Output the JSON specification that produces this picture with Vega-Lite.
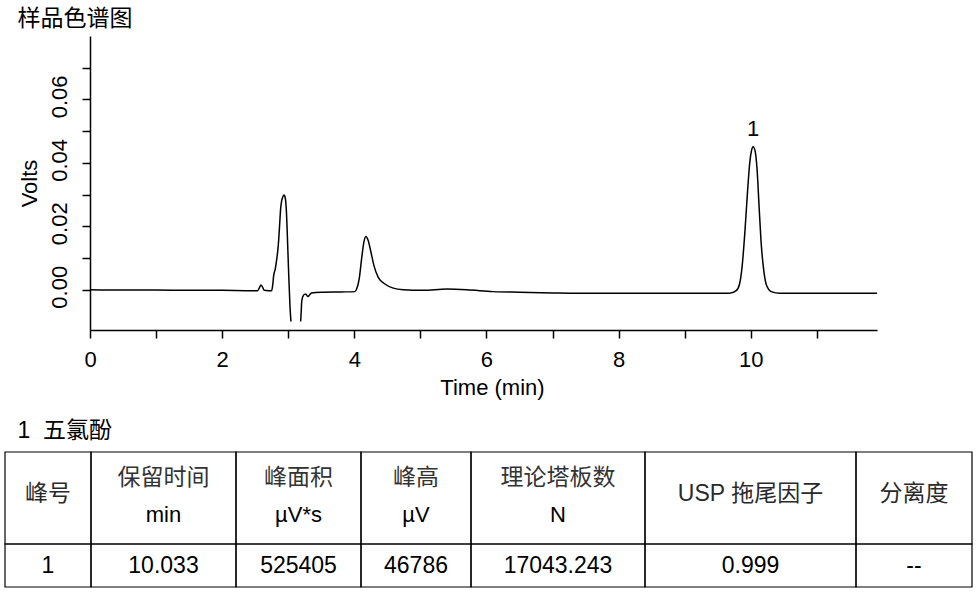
{
  "$schema": "https://vega.github.io/schema/vega-lite/v6.json",
  "padding": {"left": 4, "top": 8, "right": 4, "bottom": 4},
  "background": "white",
  "config": {
    "view": {"stroke": null},
    "font": "Liberation Sans",
    "axis": {
      "domainColor": "#000", "domainWidth": 1.5, "tickColor": "#000", "tickWidth": 1.5, "tickSize": 8,
      "labelColor": "#000", "titleColor": "#000", "labelFont": "Liberation Sans", "titleFont": "Liberation Sans",
      "labelFontSize": 22, "titleFontSize": 22, "titleFontWeight": "normal", "grid": false,
      "labelFlush": false, "labelOverlap": false
    },
    "title": {"color": "#000", "fontWeight": "normal", "anchor": "start"}
  },
  "title": {"text": "样品色谱图", "font": "Noto Sans CJK SC", "fontSize": 23, "dx": 13, "offset": 5},
  "datasets": {
    "trace": [
      {"t": 0, "v": 0.0, "seg": 1}, {"t": 0.5, "v": -0.0001, "seg": 1}, {"t": 1.0, "v": -0.0001, "seg": 1},
      {"t": 1.5, "v": -0.0002, "seg": 1}, {"t": 2.0, "v": -0.0002, "seg": 1}, {"t": 2.4, "v": -0.0003, "seg": 1},
      {"t": 2.537, "v": -0.0003, "seg": 1}, {"t": 2.565, "v": 0.0007, "seg": 1}, {"t": 2.587, "v": 0.0015, "seg": 1},
      {"t": 2.61, "v": 0.0009, "seg": 1}, {"t": 2.637, "v": -0.0002, "seg": 1}, {"t": 2.7, "v": -0.0003, "seg": 1},
      {"t": 2.749, "v": -0.0003, "seg": 1}, {"t": 2.765, "v": 0.0015, "seg": 1}, {"t": 2.78, "v": 0.0045, "seg": 1},
      {"t": 2.803, "v": 0.0065, "seg": 1}, {"t": 2.825, "v": 0.0095, "seg": 1}, {"t": 2.849, "v": 0.0139, "seg": 1},
      {"t": 2.867, "v": 0.0195, "seg": 1}, {"t": 2.885, "v": 0.0255, "seg": 1}, {"t": 2.9, "v": 0.028, "seg": 1},
      {"t": 2.915, "v": 0.0291, "seg": 1}, {"t": 2.935, "v": 0.0299, "seg": 1}, {"t": 2.95, "v": 0.0294, "seg": 1},
      {"t": 2.961, "v": 0.028, "seg": 1}, {"t": 2.975, "v": 0.0235, "seg": 1}, {"t": 2.985, "v": 0.018, "seg": 1},
      {"t": 3.006, "v": 0.0055, "seg": 1}, {"t": 3.026, "v": -0.005, "seg": 1}, {"t": 3.041, "v": -0.01, "seg": 1},
      {"t": 3.188, "v": -0.01, "seg": 2}, {"t": 3.196, "v": -0.007, "seg": 2}, {"t": 3.203, "v": -0.004, "seg": 2},
      {"t": 3.215, "v": -0.0025, "seg": 2}, {"t": 3.227, "v": -0.0019, "seg": 2}, {"t": 3.25, "v": -0.0014, "seg": 2},
      {"t": 3.268, "v": -0.0014, "seg": 2}, {"t": 3.285, "v": -0.0019, "seg": 2}, {"t": 3.303, "v": -0.0021, "seg": 2},
      {"t": 3.33, "v": -0.0014, "seg": 2}, {"t": 3.354, "v": -0.001, "seg": 2}, {"t": 3.5, "v": -0.0008, "seg": 2},
      {"t": 3.8, "v": -0.0007, "seg": 2}, {"t": 4.009, "v": -0.0006, "seg": 2}, {"t": 4.035, "v": 0.0002, "seg": 2},
      {"t": 4.074, "v": 0.0034, "seg": 2}, {"t": 4.11, "v": 0.0097, "seg": 2}, {"t": 4.145, "v": 0.015, "seg": 2},
      {"t": 4.175, "v": 0.0168, "seg": 2}, {"t": 4.21, "v": 0.0155, "seg": 2}, {"t": 4.247, "v": 0.0123, "seg": 2},
      {"t": 4.297, "v": 0.0076, "seg": 2}, {"t": 4.362, "v": 0.0039, "seg": 2}, {"t": 4.463, "v": 0.0018, "seg": 2},
      {"t": 4.589, "v": 0.0005, "seg": 2}, {"t": 4.74, "v": 0.0, "seg": 2}, {"t": 5.038, "v": -0.0002, "seg": 2},
      {"t": 5.4, "v": 0.0002, "seg": 2}, {"t": 5.7, "v": 0.0, "seg": 2}, {"t": 6.1, "v": -0.0006, "seg": 2},
      {"t": 6.5, "v": -0.0008, "seg": 2}, {"t": 7.0, "v": -0.001, "seg": 2}, {"t": 7.42, "v": -0.0011, "seg": 2},
      {"t": 8.0, "v": -0.0011, "seg": 2}, {"t": 8.5, "v": -0.0011, "seg": 2}, {"t": 9.0, "v": -0.0011, "seg": 2},
      {"t": 9.5, "v": -0.0011, "seg": 2}, {"t": 9.68, "v": -0.0011, "seg": 2}, {"t": 9.78, "v": -0.0003, "seg": 2},
      {"t": 9.83, "v": 0.0018, "seg": 2}, {"t": 9.87, "v": 0.0076, "seg": 2}, {"t": 9.91, "v": 0.018, "seg": 2},
      {"t": 9.95, "v": 0.0307, "seg": 2}, {"t": 9.985, "v": 0.0402, "seg": 2}, {"t": 10.01, "v": 0.0438, "seg": 2},
      {"t": 10.035, "v": 0.0451, "seg": 2}, {"t": 10.065, "v": 0.0438, "seg": 2}, {"t": 10.095, "v": 0.038, "seg": 2},
      {"t": 10.125, "v": 0.0265, "seg": 2}, {"t": 10.16, "v": 0.0139, "seg": 2}, {"t": 10.2, "v": 0.0055, "seg": 2},
      {"t": 10.24, "v": 0.0013, "seg": 2}, {"t": 10.31, "v": -0.0006, "seg": 2}, {"t": 10.44, "v": -0.0011, "seg": 2},
      {"t": 11.0, "v": -0.0011, "seg": 2}, {"t": 11.5, "v": -0.0011, "seg": 2}, {"t": 11.91, "v": -0.0011, "seg": 2}
    ],
    "labels": [{"rt": 10.035, "v": 0.0451, "label": "1"}],
    "cells": [
      {"c0": 0, "c1": 1, "cm": 0.5, "head": "峰号", "unit": "", "val": "1"},
      {"c0": 1, "c1": 2, "cm": 1.5, "head": "保留时间", "unit": "min", "val": "10.033"},
      {"c0": 2, "c1": 3, "cm": 2.5, "head": "峰面积", "unit": "µV*s", "val": "525405"},
      {"c0": 3, "c1": 4, "cm": 3.5, "head": "峰高", "unit": "µV", "val": "46786"},
      {"c0": 4, "c1": 5, "cm": 4.5, "head": "理论塔板数", "unit": "N", "val": "17043.243"},
      {"c0": 5, "c1": 6, "cm": 5.5, "head": "USP 拖尾因子", "unit": "", "val": "0.999"},
      {"c0": 6, "c1": 7, "cm": 6.5, "head": "分离度", "unit": "", "val": "--"}
    ]
  },
  "spacing": 22,
  "vconcat": [
    {
      "spacing": 0,
      "hconcat": [
        {"width": 12, "height": 294, "data": {"values": [{}]}, "mark": {"type": "text", "text": ""}},
        {
          "width": 787, "height": 294,
          "layer": [
            {
              "data": {"name": "trace"},
              "mark": {"type": "line", "color": "#000", "strokeWidth": 1.5, "interpolate": "monotone"},
              "encoding": {
                "x": {"field": "t", "type": "quantitative",
                  "scale": {"domain": [0, 11.91], "nice": false, "zero": false},
                  "axis": {"title": "Time (min)", "values": [0,1,2,3,4,5,6,7,8,9,10,11],
                    "labelExpr": "datum.value % 2 == 0 ? format(datum.value, 'd') : ''", "labelPadding": 11, "titlePadding": 7, "titleX": 402}},
                "y": {"field": "v", "type": "quantitative",
                  "scale": {"domain": [-0.0127, 0.08], "nice": false, "zero": false},
                  "axis": {"title": "Volts", "values": [0,0.01,0.02,0.03,0.04,0.05,0.06,0.07],
                    "labelExpr": "round(datum.value*100) % 2 == 0 ? format(datum.value, '.2f') : ''",
                    "labelAngle": -90, "labelAlign": "center", "labelBaseline": "alphabetic", "labelPadding": 16, "labelOffset": -3, "titlePadding": 7}},
                "detail": {"field": "seg", "type": "nominal"}
              }
            },
            {
              "data": {"name": "labels"},
              "mark": {"type": "text", "fontSize": 22, "color": "#000", "baseline": "middle", "dy": -18},
              "encoding": {
                "x": {"field": "rt", "type": "quantitative"},
                "y": {"field": "v", "type": "quantitative"},
                "text": {"field": "label"}
              }
            }
          ]
        }
      ]
    },
    {
      "title": {"text": "1\u00a0\u00a0五氯酚", "font": "Liberation Sans, Noto Sans CJK SC", "fontSize": 23, "dx": 13, "offset": 8},
      "width": 967, "height": 135,
      "data": {"name": "cells"},
      "layer": [
        {
          "mark": {"type": "rect", "filled": false, "color": "#000", "strokeWidth": 1.2},
          "encoding": {
            "x": {"field": "c0", "type": "quantitative", "axis": null,
              "scale": {"domain": [0, 1, 2, 3, 4, 5, 6, 7], "range": [0, 86, 231, 356, 466, 640, 851, 967], "zero": false, "nice": false}},
            "x2": {"field": "c1"},
            "y": {"datum": 0, "type": "quantitative", "axis": null,
              "scale": {"domain": [0, 1, 2], "range": [0, 92, 135], "zero": false, "nice": false}},
            "y2": {"datum": 1}
          }
        },
        {
          "mark": {"type": "rect", "filled": false, "color": "#000", "strokeWidth": 1.2},
          "encoding": {
            "x": {"field": "c0", "type": "quantitative", "axis": null},
            "x2": {"field": "c1"},
            "y": {"datum": 1, "type": "quantitative", "axis": null},
            "y2": {"datum": 2}
          }
        },
        {
          "transform": [{"filter": "datum.unit != ''"}],
          "mark": {"type": "text", "font": "Noto Sans CJK SC", "fontSize": 23, "color": "#333", "baseline": "middle", "dy": -20.5},
          "encoding": {
            "x": {"field": "cm", "type": "quantitative", "axis": null},
            "y": {"datum": 0.5, "type": "quantitative", "axis": null},
            "text": {"field": "head"}
          }
        },
        {
          "transform": [{"filter": "datum.unit != ''"}],
          "mark": {"type": "text", "font": "Liberation Sans", "fontSize": 22, "color": "#000", "baseline": "middle", "dy": 16.5},
          "encoding": {
            "x": {"field": "cm", "type": "quantitative", "axis": null},
            "y": {"datum": 0.5, "type": "quantitative", "axis": null},
            "text": {"field": "unit"}
          }
        },
        {
          "transform": [{"filter": "datum.unit == ''"}],
          "mark": {"type": "text", "font": "Liberation Sans, Noto Sans CJK SC", "fontSize": 23, "color": "#2a2a2a", "baseline": "middle", "dy": -4},
          "encoding": {
            "x": {"field": "cm", "type": "quantitative", "axis": null},
            "y": {"datum": 0.5, "type": "quantitative", "axis": null},
            "text": {"field": "head"}
          }
        },
        {
          "mark": {"type": "text", "font": "Liberation Sans", "fontSize": 23, "color": "#000", "baseline": "middle"},
          "encoding": {
            "x": {"field": "cm", "type": "quantitative", "axis": null},
            "y": {"datum": 1.5, "type": "quantitative", "axis": null},
            "text": {"field": "val"}
          }
        }
      ]
    }
  ]
}
